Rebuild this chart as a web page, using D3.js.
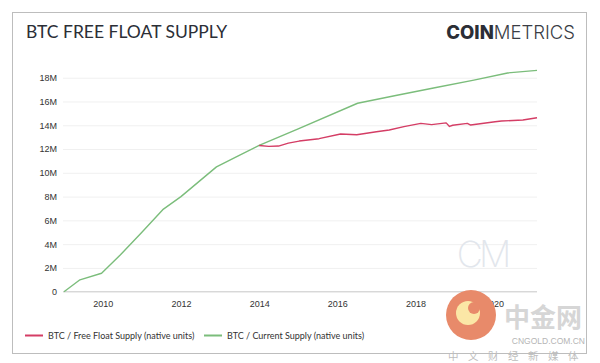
<!DOCTYPE html>
<html>
<head>
<meta charset="utf-8">
<script src="https://cdnjs.cloudflare.com/ajax/libs/d3/7.8.5/d3.min.js"></script>
<style>
  body { margin: 0; background: #fff; }
  svg { display: block; }
</style>
</head>
<body>
<div id="chart"></div>
<script>
// Chart dimensions
var w = 600;
var h = 363;
var parseTime = d3.timeParse("%Y-%m-%d");

// Data (millions of BTC)
var currentDates = ["2009-01-03", "2009-06-01", "2009-12-20", "2010-06-15", "2011-01-01",
  "2011-07-15", "2012-01-01", "2012-11-28", "2013-06-15", "2014-01-01", "2015-01-01",
  "2016-07-09", "2017-07-01", "2018-07-01", "2019-07-01", "2020-05-11", "2021-02-10"];
var currentValues = [0, 1.0, 1.55, 3.1, 5.0, 6.9, 8.0, 10.5, 11.4, 12.3, 13.7,
  15.85, 16.5, 17.15, 17.8, 18.4, 18.62];

var floatDates = ["2014-01-01", "2014-04-01", "2014-07-01", "2014-10-01", "2015-01-10",
  "2015-07-15", "2016-02-01", "2016-07-01", "2017-01-01", "2017-05-01", "2017-09-15",
  "2018-02-20", "2018-06-01", "2018-10-15", "2018-11-15", "2018-12-15", "2019-05-01",
  "2019-06-01", "2020-01-15", "2020-03-15", "2020-10-01", "2021-02-10"];
var floatValues = [12.3, 12.22, 12.25, 12.5, 12.67, 12.87, 13.26, 13.2, 13.45, 13.6, 13.88,
  14.16, 14.05, 14.2, 13.9, 14.0, 14.16, 14.02, 14.3, 14.36, 14.44, 14.63];

var yTicks = [0, 2, 4, 6, 8, 10, 12, 14, 16, 18];
var xTicks = ["2010-01-01", "2012-01-01", "2014-01-01", "2016-01-01", "2018-01-01", "2020-01-01"];

var labels = ["BTC / Free Float Supply (native units)", "BTC / Current Supply (native units)"];
var colors = ["#d43d65", "#7bbd7b"];

function toSeries(dates, values) {
  return dates.map(function(d, i) { return { Date: parseTime(d), value: values[i] }; });
}

function createLine(svg, data, xScale, yScale, color) {
  var line = d3.line()
    .x(d => xScale(d.Date))
    .y(d => yScale(d.value));

  svg.append("path")
    .datum(data)
    .attr("fill", "none")
    .attr("stroke", color)
    .attr("stroke-width", 1.4)
    .attr("stroke-linejoin", "round")
    .attr("d", line);
}

function createLegend(svg) {
  var xs = [25, 204];
  labels.forEach(function(label, i) {
    svg.append("line")
      .attr("x1", xs[i])
      .attr("x2", xs[i] + 18)
      .attr("y1", 335.5)
      .attr("y2", 335.5)
      .attr("stroke", colors[i])
      .attr("stroke-width", 2);
    svg.append("text")
      .attr("x", xs[i] + 23)
      .attr("y", 338.5)
      .attr("font-family", "Lato, sans-serif")
      .attr("font-size", "9px")
      .attr("fill", "#333")
      .text(label);
  });
}

function addWatermarks(svg) {
  // CM mark inside the plot
  svg.append("text")
    .attr("x", 482)
    .attr("y", 267)
    .attr("text-anchor", "middle")
    .attr("font-family", "Inter, sans-serif")
    .attr("font-weight", 200)
    .attr("font-size", "36px")
    .attr("letter-spacing", "-4px")
    .attr("fill", "#e2e6ec")
    .text("CM");

  // site stamp in the corner
  svg.append("circle")
    .attr("cx", 471)
    .attr("cy", 315)
    .attr("r", 25)
    .attr("fill", "#e88a6a");
  svg.append("circle")
    .attr("cx", 468)
    .attr("cy", 313)
    .attr("r", 12)
    .attr("fill", "#fbe7a6");
  svg.append("circle")
    .attr("cx", 474)
    .attr("cy", 308)
    .attr("r", 6)
    .attr("fill", "#e88a6a");
  svg.append("text")
    .attr("x", 504)
    .attr("y", 327)
    .attr("font-family", "'Noto Sans CJK SC', sans-serif")
    .attr("font-weight", 700)
    .attr("font-size", "26px")
    .attr("fill", "#cfcfcf")
    .attr("opacity", 0.85)
    .text("中金网");
  svg.append("text")
    .attr("x", 585)
    .attr("y", 343.5)
    .attr("text-anchor", "end")
    .attr("font-family", "'Liberation Sans', sans-serif")
    .attr("font-size", "8.5px")
    .attr("fill", "#b5b5b5")
    .text("CNGOLD.COM.CN");
  svg.append("text")
    .attr("x", 448)
    .attr("y", 360)
    .attr("font-family", "'Noto Sans CJK SC', sans-serif")
    .attr("font-size", "10.5px")
    .attr("letter-spacing", "9.5px")
    .attr("fill", "#bdbdbd")
    .text("中文财经新媒体");
}

function main() {
  var current = toSeries(currentDates, currentValues);
  var float = toSeries(floatDates, floatValues);

  var xScale = d3.scaleTime()
    .domain([parseTime("2009-01-03"), parseTime("2021-02-10")])
    .range([64, 537]);

  var yScale = d3.scaleLinear()
    .domain([0, 18])
    .range([291.7, 77.7]);

  var svg = d3.select("#chart")
    .append("svg")
    .attr("width", w)
    .attr("height", h);

  // frame
  svg.append("rect")
    .attr("x", 12.5)
    .attr("y", 12.5)
    .attr("width", 574)
    .attr("height", 341)
    .attr("fill", "#fff")
    .attr("stroke", "#bdbdbd")
    .attr("stroke-width", 1);

  svg.append("text")
    .attr("x", 26)
    .attr("y", 38)
    .attr("font-family", "Lato, sans-serif")
    .attr("font-size", "17.5px")
    .attr("fill", "#2b2e36")
    .text("BTC FREE FLOAT SUPPLY");

  var logo = svg.append("text")
    .attr("x", 575)
    .attr("y", 39)
    .attr("text-anchor", "end")
    .attr("font-family", "Inter, sans-serif")
    .attr("font-size", "18.5px")
    .attr("fill", "#2b2e36");
  logo.append("tspan").attr("font-weight", 800).text("COIN");
  logo.append("tspan").attr("font-weight", 300).attr("fill", "#3a3d45").text("METRICS");

  // grid + y labels
  var yAxis = d3.axisLeft(yScale)
    .tickValues(yTicks)
    .tickSize(-(537 - 63))
    .tickPadding(6)
    .tickFormat(d => d === 0 ? "0" : d + "M");

  var gy = svg.append("g")
    .attr("transform", "translate(63,0)")
    .call(yAxis);
  gy.select(".domain").remove();
  gy.selectAll(".tick line").attr("stroke", "#f0f0f0");
  gy.selectAll("text")
    .attr("font-family", "'Liberation Sans', Arial, sans-serif")
    .attr("font-size", "9px")
    .attr("fill", "#333");

  var xAxis = d3.axisBottom(xScale)
    .tickValues(xTicks.map(parseTime))
    .tickSize(0)
    .tickPadding(9)
    .tickFormat(d3.timeFormat("%Y"));

  var gx = svg.append("g")
    .attr("transform", "translate(0,291.7)")
    .call(xAxis);
  gx.select(".domain").attr("stroke", "#cfcfcf").attr("d", "M63,0H537");
  gx.selectAll("text")
    .attr("font-family", "'Liberation Sans', Arial, sans-serif")
    .attr("font-size", "9px")
    .attr("fill", "#333");

  addWatermarks(svg);

  createLine(svg, current, xScale, yScale, colors[1]);
  createLine(svg, float, xScale, yScale, colors[0]);

  createLegend(svg);
}

window.onload = function() {
  main();
};
</script>
</body>
</html>
